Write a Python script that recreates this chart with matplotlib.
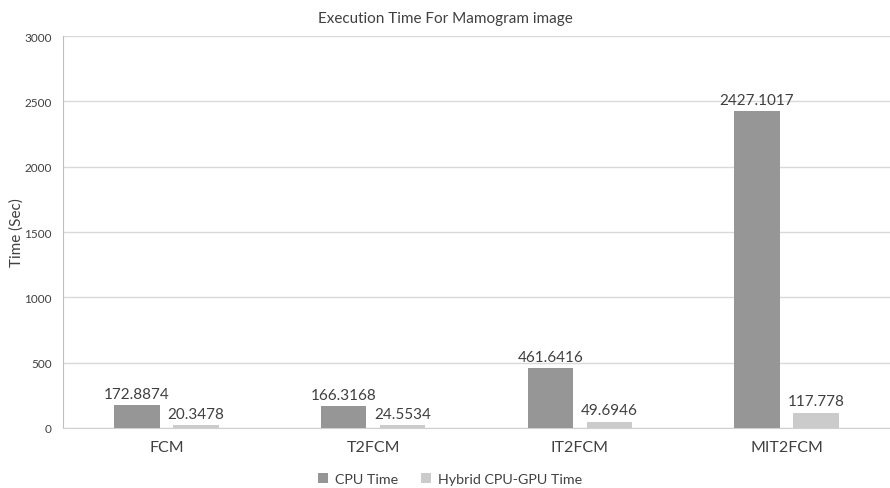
import matplotlib.pyplot as plt
import numpy as np

plt.rcParams['font.family'] = ['Lato', 'DejaVu Sans']

categories = ["FCM", "T2FCM", "IT2FCM", "MIT2FCM"]
cpu_time = [172.8874, 166.3168, 461.6416, 2427.1017]
hybrid_time = [20.3478, 24.5534, 49.6946, 117.778]
cpu_labels = ["172.8874", "166.3168", "461.6416", "2427.1017"]
hybrid_labels = ["20.3478", "24.5534", "49.6946", "117.778"]

fig = plt.figure(figsize=(8.9, 4.89), dpi=100)
ax = fig.add_axes([0.0708, 0.1227, 0.9292, 0.8016])

x = np.arange(len(categories))
w = 0.22
off = 0.143

b1 = ax.bar(x - off, cpu_time, w, color="#969696", label="CPU Time", zorder=3)
b2 = ax.bar(x + off, hybrid_time, w, color="#cbcbcb", label="Hybrid CPU-GPU Time", zorder=3)

for bars, labels in ((b1, cpu_labels), (b2, hybrid_labels)):
    for bar, lab in zip(bars, labels):
        ax.annotate(lab, (bar.get_x() + bar.get_width() / 2, bar.get_height()),
                    xytext=(0, 3), textcoords="offset points",
                    ha="center", va="bottom", fontsize=11, color="#404040")

ax.set_xlim(-0.5, 3.5)
ax.set_ylim(0, 3000)
ax.set_yticks(range(0, 3001, 500))
ax.set_xticks(x)
ax.set_xticklabels(categories)
ax.tick_params(axis="x", length=0, pad=9, labelsize=11.5, labelcolor="#404040")
ax.tick_params(axis="y", length=0, pad=8, labelsize=8.5, labelcolor="#404040")

ax.grid(axis="y", color="#d9d9d9", linewidth=1, zorder=0)
for s in ("top", "right"):
    ax.spines[s].set_visible(False)
ax.spines["left"].set_color("#bfbfbf")
ax.spines["bottom"].set_color("#d0d0d0")

fig.text(0.019, 0.525, "Time (Sec)", rotation=90, ha="center", va="center",
         fontsize=11, color="#404040")
fig.suptitle("Execution Time For Mamogram image", y=0.975, fontsize=11, color="#404040")

fig.legend(loc="lower center", bbox_to_anchor=(0.506, -0.02), ncol=2, frameon=False,
           fontsize=10.3, handlelength=0.7, handleheight=0.7, columnspacing=1.6,
           handletextpad=0.5, labelcolor="#404040")

fig.savefig("out.png", dpi=100)
